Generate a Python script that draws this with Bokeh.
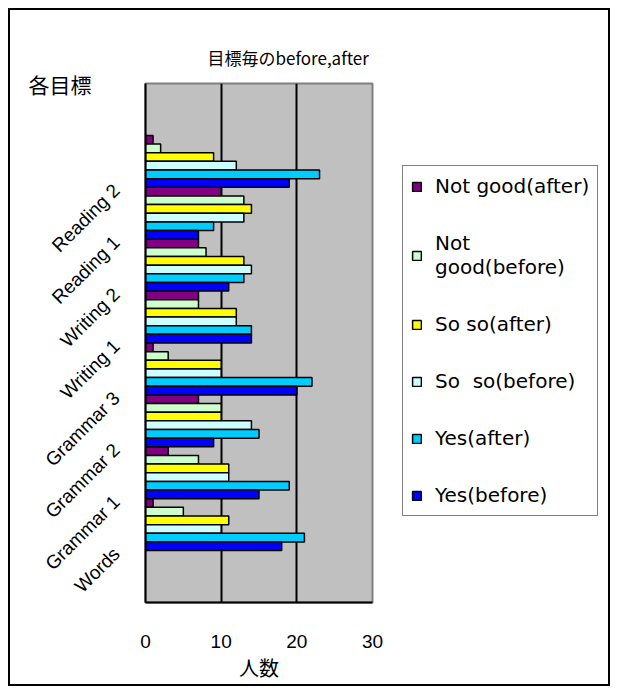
import math
from bokeh.plotting import figure
from bokeh.layouts import row
from bokeh.models import ColumnDataSource, Legend, LegendItem, FixedTicker, Range1d
from bokeh.embed import file_html
from bokeh.resources import INLINE

# ---- data ----
categories = ["Words", "Grammar 1", "Grammar 2", "Grammar 3",
              "Writing 1", "Writing 2", "Reading 1", "Reading 2"]
series_names = ["Not good(after)", "Not\ngood(before)", "So so(after)",
                "So  so(before)", "Yes(after)", "Yes(before)"]
not_good_after = [1, 3, 7, 1, 7, 7, 10, 1]
not_good_before = [5, 7, 10, 3, 7, 8, 13, 2]
so_so_after = [11, 11, 10, 10, 12, 13, 14, 9]
so_so_before = [10, 11, 14, 10, 12, 14, 13, 12]
yes_after = [21, 19, 15, 22, 14, 13, 9, 23]
yes_before = [18, 15, 9, 20, 14, 11, 7, 19]
x_ticks = [0, 10, 20, 30]
title_text = "目標毎のbefore,after"
y_title = "各目標"
x_title = "人数"

series_values = [not_good_after, not_good_before, so_so_after,
                 so_so_before, yes_after, yes_before]
colors = ["#800080", "#CCFFCC", "#FFFF00", "#CCFFFF", "#00CCFF", "#0000FF"]

p = figure(width=380, height=674, x_range=(0, 30), y_range=(-1, 9),
           output_backend="svg", toolbar_location=None,
           min_border_left=135, min_border_right=18,
           min_border_top=73, min_border_bottom=81,
           background_fill_color="#C0C0C0", border_fill_color="white",
           outline_line_color="#808080", outline_line_width=2)

n_series = len(series_names)
bar_h = 1.0 / n_series
sources = []
for j, (vals, col) in enumerate(zip(series_values, colors)):
    ys = [i + 1 - (j + 0.5) * bar_h for i in range(len(categories))]
    src = ColumnDataSource(dict(y=ys, x=vals))
    sources.append(src)
    p.hbar(y="y", right="x", left=0, height=bar_h, source=src,
           fill_color=col, line_color="black", line_width=1.5)

# title
p.title.text = title_text
p.title.align = "left"
p.title.offset = 62
p.title.text_font = "Noto Sans CJK JP"
p.title.text_font_size = "17px"
p.title.text_font_style = "normal"
p.title.text_color = "black"
p.title.standoff = 27

# x axis
p.xaxis.ticker = FixedTicker(ticks=x_ticks)
p.xaxis.major_tick_out = 0
p.xaxis.major_tick_in = 0
p.xaxis.minor_tick_out = 0
p.xaxis.minor_tick_in = 0
p.xaxis.axis_line_color = "black"
p.xaxis.axis_line_width = 2
p.xaxis.major_label_standoff = 32
p.xaxis.major_label_text_font = "Liberation Sans"
p.xaxis.major_label_text_font_size = "19px"
p.xaxis.major_label_text_color = "black"
p.xaxis.axis_label = x_title
p.xaxis.axis_label_text_font = "Noto Sans CJK JP"
p.xaxis.axis_label_text_font_size = "20px"
p.xaxis.axis_label_text_font_style = "normal"
p.xaxis.axis_label_text_color = "black"
p.xaxis.axis_label_standoff = 2

# y axis
p.yaxis.ticker = FixedTicker(ticks=list(range(len(categories))))
p.yaxis.major_label_overrides = {i: c for i, c in enumerate(categories)}
p.yaxis.major_label_orientation = math.pi / 4
p.yaxis.major_tick_out = 0
p.yaxis.major_tick_in = 0
p.yaxis.minor_tick_out = 0
p.yaxis.minor_tick_in = 0
p.yaxis.axis_line_color = "black"
p.yaxis.axis_line_width = 2
p.yaxis.major_label_standoff = 29
p.yaxis.major_label_text_font = "Liberation Sans"
p.yaxis.major_label_text_font_size = "19px"
p.yaxis.major_label_text_color = "black"
p.yaxis.axis_label = y_title
p.yaxis.axis_label_orientation = "horizontal"
p.yaxis.axis_label_align = "end"
p.yaxis.axis_label_standoff_mode = "axis"
p.yaxis.axis_label_standoff = 54
p.yaxis.axis_label_text_baseline = "top"
p.yaxis.axis_label_text_font = "Noto Sans CJK JP"
p.yaxis.axis_label_text_font_size = "21px"
p.yaxis.axis_label_text_font_style = "normal"
p.yaxis.axis_label_text_color = "black"

# grid
p.ygrid.visible = False
p.xgrid.ticker = FixedTicker(ticks=[10, 20])
p.xgrid.grid_line_color = "black"
p.xgrid.grid_line_width = 2

# legend panel: a bare figure whose frame is the whole area; it reuses the
# bar sources (drawn underneath the opaque legend box) to supply legend glyphs
lf = figure(width=218, height=674, output_backend="svg", toolbar_location=None,
            x_range=Range1d(-10, 70), y_range=Range1d(-4, 13),
            x_axis_type=None, y_axis_type=None,
            min_border_left=0, min_border_right=0,
            min_border_top=0, min_border_bottom=0,
            background_fill_color="white", border_fill_color="white",
            outline_line_color=None)
lf.grid.visible = False
legend_renderers = []
for src, col in zip(sources, colors):
    lr = lf.hbar(y="y", right="x", left=0, height=bar_h, source=src,
                 fill_color=col, line_color="black", line_width=1.5)
    legend_renderers.append(lr)

items = [LegendItem(label=name, renderers=[r])
         for name, r in zip(series_names, legend_renderers)]
legend = Legend(items=items, location=(12, 86), orientation="vertical",
                border_line_color="black", border_line_width=1.5,
                background_fill_color="white", background_fill_alpha=1.0,
                label_text_font="DejaVu Sans", label_text_font_size="20px",
                label_text_color="black",
                glyph_width=11, glyph_height=11, label_standoff=13,
                padding=8, spacing=33, label_height=23, margin=0)
lf.add_layout(legend)

layout = row(p, lf, styles={"border": "2px solid black"}, margin=(8, 0, 0, 8))

open("out.html", "w").write(file_html(layout, INLINE))
